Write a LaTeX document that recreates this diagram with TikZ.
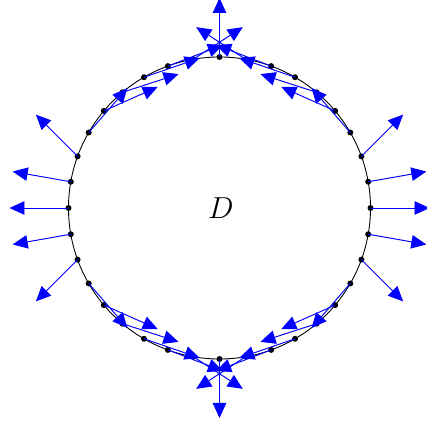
\documentclass[tikz,border=0pt]{standalone}
\usetikzlibrary{arrows.meta}
\definecolor{fieldblue}{RGB}{0,0,255}

\begin{document}
\begin{tikzpicture}[bdot/.style={circle,fill=black,inner sep=0pt,minimum size=0.12cm},
  fieldarrow/.style={color=fieldblue,line width=0.55pt,-{Triangle[length=0.3cm,width=0.27cm]}}]
\useasboundingbox (-4.39,-4.30) rectangle (4.15,4.16);

\draw[line width=0.5pt] (0,0) circle (3.02);
\node (lbl) at (0.03,0) {\LARGE $D$};

% boundary points (angle/direction of the field there)
\foreach \a/\d in {0/0,10/10,20/45,30/131,40/156,50/162,60/161,70/159,80/147,
  90/90,100/33,110/21,120/19,130/18,140/24,150/49,160/135,170/170,
  180/180,190/190,200/225,210/311,220/336,230/342,240/341,250/339,260/327,
  270/270,280/213,290/201,300/199,310/198,320/204,330/229,340/315,350/350} {
  \node[bdot] (p\a) at (\a:3.02) {};
  \path (p\a.center) ++(\d:1.18) coordinate (t\a);
}

% field vectors
\foreach \a in {0,10,...,350}
  \draw[fieldarrow] (p\a.center) -- (t\a);
\end{tikzpicture}
\end{document}
